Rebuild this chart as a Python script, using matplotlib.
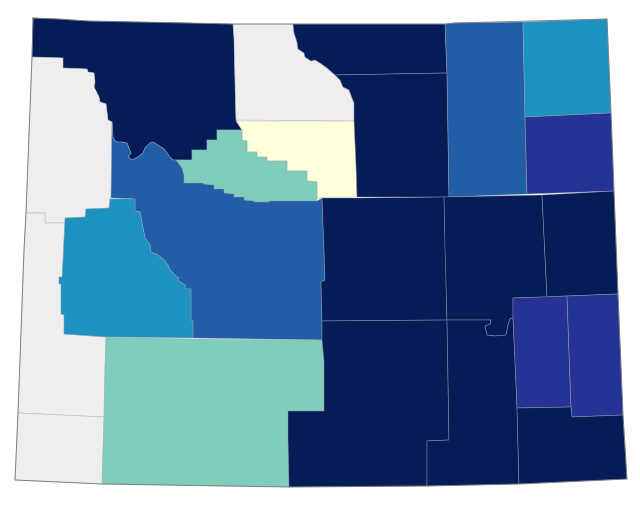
import numpy as np
import matplotlib
matplotlib.use("Agg")
import matplotlib.pyplot as plt
from matplotlib.collections import PolyCollection
from matplotlib.colors import ListedColormap

# class colours, 0 is no data
class_colors = ["#eeeeee", "#ffffd9", "#7fcdbb", "#1d91c0", "#225ea8", "#253494", "#061c56"]

hot_springs_top = [(176, 160), (192, 160), (192, 150), (207, 150), (207, 140), (217, 140), (217, 130), (242, 130)]
hot_springs_right = [(242, 130), (242, 140), (247, 141), (247, 152), (257, 152), (257, 157), (267, 157), (267, 161),
                     (287, 161), (287, 171), (307, 171), (307, 181), (317, 182), (317, 201)]
hot_springs_bottom = [(176, 160), (182, 168), (184, 175), (184, 183), (203, 183), (204, 184), (214, 185), (214, 189),
                      (224, 189), (224, 193), (234, 194), (234, 197), (244, 197), (244, 200), (254, 201), (254, 202),
                      (269, 202), (269, 201), (317, 201)]
park_fremont = [(112, 122), (113, 137), (115, 141), (118, 142), (121, 142), (127, 143), (129, 148), (131, 153),
                (128, 157), (132, 160), (138, 157), (143, 153), (145, 148), (150, 143), (153, 142), (158, 145),
                (164, 149), (170, 157), (173, 160), (176, 160)]
sublette_fremont = [(135, 199), (135, 211), (140, 212), (142, 223), (145, 238), (150, 245), (151, 252), (158, 255),
                    (163, 259), (168, 265), (170, 270), (177, 277), (179, 278), (177, 280), (185, 285), (186, 289),
                    (191, 289), (191, 320), (193, 321), (193, 338)]
bighorn_sheridan = [(293, 24), (294, 33), (297, 42), (298, 49), (304, 53), (305, 57), (311, 61), (315, 60), (320, 63),
                    (327, 68), (335, 75), (340, 80), (343, 87), (349, 90), (352, 98), (354, 103), (354, 121)]
teton_park = [(32, 57), (63, 58), (63, 68), (87, 69), (88, 72), (94, 73), (95, 82), (94, 87), (99, 97), (100, 102),
              (106, 104), (108, 120), (112, 122)]
converse_platte = [(447, 320), (491, 320), (490, 324), (485, 326), (487, 335), (495, 336), (506, 335), (508, 325),
                   (510, 319), (513, 318)]
natrona_fremont = [(322, 198), (324, 250), (325, 280), (321, 282), (322, 321)]
sublette_lincoln = [(110, 199), (109, 208), (86, 209), (85, 217), (65, 218), (63, 260), (62, 277), (59, 277),
                    (59, 284), (61, 284), (61, 314), (64, 315), (64, 334), (106, 337)]

counties = {
    "Park": [(33, 18), (58, 19), (88, 21), (193, 23), (233, 24), (234, 38), (235, 80), (236, 120)]
            + hot_springs_top[::-1] + park_fremont[::-1] + teton_park[::-1],
    "Teton": teton_park + [(111, 198), (110, 199), (109, 208), (86, 209), (85, 217), (65, 218), (65, 223), (45, 223),
                           (45, 213), (26, 213)],
    "Lincoln": [(26, 213), (45, 213), (45, 223), (65, 223), (63, 260), (62, 277), (59, 277), (59, 284), (61, 284),
                (61, 314), (64, 315), (64, 334), (106, 337), (105, 367), (104, 417), (18, 413), (24, 250)],
    "Uinta": [(18, 413), (104, 417), (102, 484), (15, 480)],
    "Big Horn": [(233, 24)] + bighorn_sheridan + [(236, 120), (235, 80), (234, 38)],
    "Washakie": [(236, 121), (354, 121), (356, 165), (357, 197), (317, 198)] + hot_springs_right[::-1][1:],
    "Hot Springs": hot_springs_top + hot_springs_right + hot_springs_bottom[::-1],
    "Sheridan": bighorn_sheridan[:11] + [(447, 73), (445, 24)],
    "Johnson": bighorn_sheridan[10:] + [(356, 165), (357, 197), (449, 197), (447, 73)],
    "Campbell": [(445, 24), (454, 23), (523, 22), (525, 117), (527, 194), (449, 197), (447, 73)],
    "Crook": [(523, 22), (607, 19), (611, 113), (525, 117)],
    "Weston": [(525, 117), (611, 113), (614, 191), (527, 194)],
    "Fremont": [(112, 122), (111, 198), (135, 199)] + sublette_fremont[1:] + [(322, 340), (322, 321)]
               + natrona_fremont[::-1][1:] + [(317, 201)] + hot_springs_bottom[::-1][1:] + park_fremont[::-1][1:],
    "Sublette": [(110, 199)] + sublette_fremont + sublette_lincoln[::-1],
    "Sweetwater": [(106, 337), (193, 339), (322, 340), (324, 362), (324, 411), (288, 411), (288, 440), (289, 487),
                   (102, 484), (104, 417), (105, 367)],
    "Natrona": natrona_fremont + [(447, 320), (444, 197), (357, 198)],
    "Converse": [(444, 197), (542, 195), (547, 297), (513, 298)] + converse_platte[::-1] + [(445, 250)],
    "Niobrara": [(542, 195), (614, 191), (618, 294), (567, 296), (547, 297)],
    "Carbon": [(322, 321), (447, 320), (449, 440), (427, 441), (427, 486), (289, 487), (288, 440), (288, 411),
               (324, 411), (324, 362), (322, 340)],
    "Albany": converse_platte + [(515, 360), (517, 408), (519, 484), (427, 486), (427, 441), (449, 440)],
    "Platte": [(513, 298), (567, 296), (571, 407), (517, 408), (513, 318)],
    "Goshen": [(567, 296), (618, 294), (623, 415), (572, 417), (571, 407)],
    "Laramie": [(517, 408), (571, 407), (572, 417), (623, 415), (627, 479), (519, 484)],
}

county_class = {
    "Park": 6, "Teton": 0, "Lincoln": 0, "Uinta": 0, "Big Horn": 0, "Washakie": 1, "Hot Springs": 2,
    "Sheridan": 6, "Johnson": 6, "Campbell": 4, "Crook": 3, "Weston": 5, "Fremont": 4, "Sublette": 3,
    "Sweetwater": 2, "Natrona": 6, "Converse": 6, "Niobrara": 6, "Carbon": 6, "Albany": 6, "Platte": 5,
    "Goshen": 5, "Laramie": 6,
}

state_outline = [(33, 18), (58, 19), (88, 21), (233, 24), (446, 24), (454, 23), (607, 19), (611, 113), (614, 191),
                 (618, 294), (623, 415), (627, 479), (519, 484), (427, 486), (289, 487), (102, 484), (15, 480),
                 (18, 413), (24, 250), (26, 213), (32, 57)]

names = list(counties)
values = np.array([county_class[n] for n in names])

fig = plt.figure(figsize=(6.4, 5.05), dpi=100)
ax = fig.add_axes([0, 0, 1, 1])
ax.set_xlim(0, 640)
ax.set_ylim(505, 0)
ax.axis("off")

shapes = PolyCollection([counties[n] for n in names], array=values, cmap=ListedColormap(class_colors),
                        edgecolors=(0.62, 0.65, 0.70, 0.55), linewidths=0.5)
shapes.set_clim(-0.5, len(class_colors) - 0.5)
ax.add_collection(shapes)

# outer border is a bit darker
outline = np.array(state_outline + state_outline[:1])
ax.plot(outline[:, 0], outline[:, 1], color="#6f7378", lw=0.7, alpha=0.85)

fig.savefig("out.png", dpi=100)
